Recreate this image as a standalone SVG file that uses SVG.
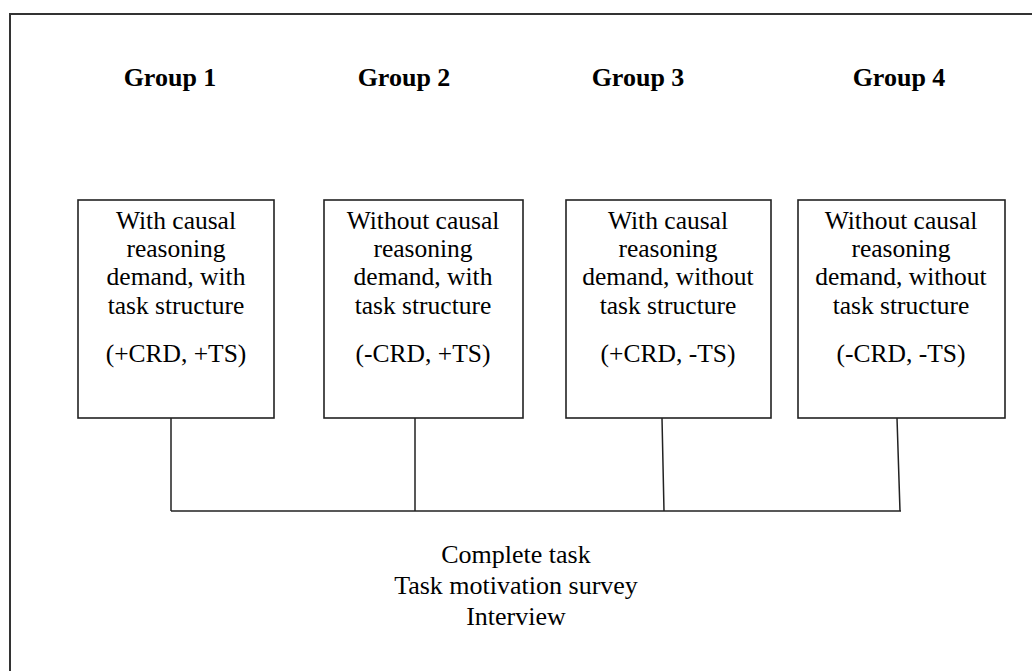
<svg xmlns="http://www.w3.org/2000/svg" width="1032" height="671" viewBox="0 0 1032 671">
<style>
.frame{fill:#fff;stroke:#333;stroke-width:2}
.box{fill:#fff;stroke:#222;stroke-width:1.6}
.conn{fill:none;stroke:#222;stroke-width:1.5}
text{font-family:'Liberation Serif','Times New Roman',Tinos,'DejaVu Serif',serif;fill:#000;text-anchor:middle}
.t{font-size:25.5px}
.g{font-size:26px;font-weight:bold}
.b{font-size:26px}
</style>
<rect x="0" y="0" width="1032" height="671" fill="#fff"/>
<rect class="frame" x="10" y="14" width="1040" height="680"/>
<g id="labels">
<text class="g" x="170" y="86">Group 1</text>
<text class="g" x="404" y="86">Group 2</text>
<text class="g" x="638" y="86">Group 3</text>
<text class="g" x="899" y="86">Group 4</text>
</g>
<g id="connectors">
<path class="conn" d="M171,418 V511 M415,418 V511 M662,418 L664,511 M897,418 L900,511 M171,511 H901"/>
</g>
<g id="group1">
<rect class="box" x="78" y="200" width="196" height="218"/>
<text class="t" x="176" y="229">With causal</text>
<text class="t" x="176" y="257">reasoning</text>
<text class="t" x="176" y="285">demand, with</text>
<text class="t" x="176" y="314">task structure</text>
<text class="t" x="176" y="362">(+CRD, +TS)</text>
</g>
<g id="group2">
<rect class="box" x="324" y="200" width="199" height="218"/>
<text class="t" x="423" y="229">Without causal</text>
<text class="t" x="423" y="257">reasoning</text>
<text class="t" x="423" y="285">demand, with</text>
<text class="t" x="423" y="314">task structure</text>
<text class="t" x="423" y="362">(-CRD, +TS)</text>
</g>
<g id="group3">
<rect class="box" x="566" y="200" width="205" height="218"/>
<text class="t" x="668" y="229">With causal</text>
<text class="t" x="668" y="257">reasoning</text>
<text class="t" x="668" y="285">demand, without</text>
<text class="t" x="668" y="314">task structure</text>
<text class="t" x="668" y="362">(+CRD, -TS)</text>
</g>
<g id="group4">
<rect class="box" x="798" y="200" width="207" height="218"/>
<text class="t" x="901" y="229">Without causal</text>
<text class="t" x="901" y="257">reasoning</text>
<text class="t" x="901" y="285">demand, without</text>
<text class="t" x="901" y="314">task structure</text>
<text class="t" x="901" y="362">(-CRD, -TS)</text>
</g>
<g id="outcome">
<text class="b" x="516" y="563">Complete task</text>
<text class="b" x="516" y="594">Task motivation survey</text>
<text class="b" x="516" y="625">Interview</text>
</g>
</svg>
